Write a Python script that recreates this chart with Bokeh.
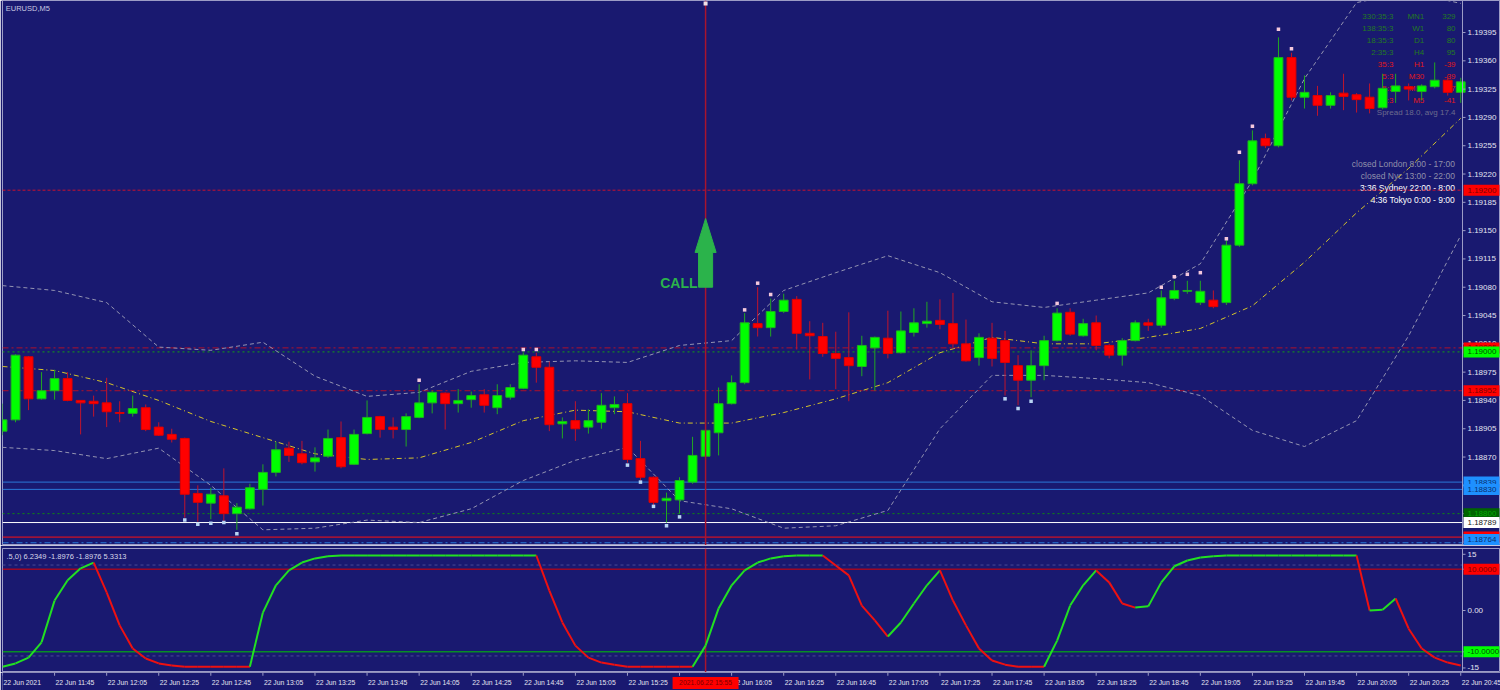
from bokeh.plotting import figure
from bokeh.models import Range1d, Label, Span
from bokeh.layouts import column
from bokeh.embed import file_html
from bokeh.resources import INLINE
from bokeh.core.properties import value

# ---------------- data (EURUSD M5, 22 Jun 2021, bar 0 = 11:25) ----------------
bar_open = [1.18902, 1.18916, 1.18994, 1.18942, 1.18952, 1.18967, 1.18940, 1.18939, 1.18937, 1.18925,
            1.18924, 1.18931, 1.18907, 1.18898, 1.18893, 1.18825, 1.18813, 1.18822, 1.18800, 1.18806,
            1.18830, 1.18851, 1.18881, 1.18874, 1.18864, 1.18871, 1.18894, 1.18861, 1.18899, 1.18920,
            1.18907, 1.18904, 1.18919, 1.18937, 1.18949, 1.18936, 1.18941, 1.18947, 1.18931, 1.18944,
            1.18955, 1.18994, 1.18981, 1.18911, 1.18915, 1.18907, 1.18913, 1.18931, 1.18936, 1.18868,
            1.18845, 1.18816, 1.18817, 1.18839, 1.18871, 1.18900, 1.18936, 1.18962, 1.19035, 1.19030,
            1.19050, 1.19065, 1.19023, 1.19019, 1.18998, 1.18993, 1.18982, 1.19005, 1.19017, 1.18999,
            1.19024, 1.19035, 1.19039, 1.19035, 1.19010, 1.18993, 1.19017, 1.19014, 1.18983, 1.18965,
            1.18983, 1.19014, 1.19049, 1.19020, 1.19036, 1.19008, 1.18996, 1.19014, 1.19036, 1.19033,
            1.19066, 1.19075, 1.19061, 1.19064, 1.19061, 1.19132, 1.19208, 1.19264, 1.19255, 1.19364,
            1.19315, 1.19317, 1.19305, 1.19320, 1.19318, 1.19315, 1.19302, 1.19322, 1.19328, 1.19322,
            1.19328, 1.19336, 1.19321]
bar_high = [1.18936, 1.18997, 1.18995, 1.18975, 1.18978, 1.18975, 1.18940, 1.18946, 1.18968, 1.18939,
            1.18946, 1.18935, 1.18913, 1.18905, 1.18894, 1.18835, 1.18832, 1.18856, 1.18813, 1.18837,
            1.18861, 1.18889, 1.18889, 1.18890, 1.18882, 1.18904, 1.18914, 1.18904, 1.18940, 1.18921,
            1.18919, 1.18924, 1.18960, 1.18952, 1.18950, 1.18954, 1.18951, 1.18954, 1.18960, 1.18960,
            1.18999, 1.18999, 1.18988, 1.18919, 1.18939, 1.18929, 1.18949, 1.18945, 1.18949, 1.18890,
            1.18846, 1.18826, 1.18845, 1.18895, 1.18904, 1.18956, 1.18971, 1.19048, 1.19080, 1.19066,
            1.19072, 1.19069, 1.19038, 1.19036, 1.19025, 1.19049, 1.19020, 1.19019, 1.19051, 1.19050,
            1.19054, 1.19062, 1.19065, 1.19073, 1.19040, 1.19023, 1.19036, 1.19026, 1.18996, 1.19002,
            1.19020, 1.19054, 1.19054, 1.19041, 1.19045, 1.19010, 1.19017, 1.19039, 1.19041, 1.19076,
            1.19088, 1.19088, 1.19088, 1.19076, 1.19138, 1.19237, 1.19274, 1.19270, 1.19389, 1.19370,
            1.19342, 1.19329, 1.19321, 1.19344, 1.19320, 1.19332, 1.19344, 1.19344, 1.19332, 1.19331,
            1.19358, 1.19342, 1.19339]
bar_low = [1.18897, 1.18913, 1.18928, 1.18941, 1.18941, 1.18939, 1.18898, 1.18920, 1.18907, 1.18913,
           1.18920, 1.18902, 1.18896, 1.18888, 1.18795, 1.18790, 1.18793, 1.18789, 1.18780, 1.18805,
           1.18810, 1.18846, 1.18864, 1.18861, 1.18852, 1.18869, 1.18856, 1.18860, 1.18898, 1.18894,
           1.18893, 1.18883, 1.18918, 1.18924, 1.18904, 1.18925, 1.18931, 1.18925, 1.18923, 1.18941,
           1.18954, 1.18962, 1.18902, 1.18893, 1.18890, 1.18899, 1.18905, 1.18923, 1.18863, 1.18841,
           1.18810, 1.18789, 1.18800, 1.18837, 1.18870, 1.18872, 1.18935, 1.18960, 1.19019, 1.19019,
           1.19048, 1.19003, 1.18966, 1.18994, 1.18954, 1.18939, 1.18970, 1.18952, 1.18992, 1.18998,
           1.19019, 1.19030, 1.19028, 1.19004, 1.18988, 1.18983, 1.18982, 1.18946, 1.18934, 1.18944,
           1.18965, 1.19013, 1.19020, 1.19019, 1.19002, 1.18992, 1.18983, 1.19013, 1.19026, 1.19030,
           1.19064, 1.19072, 1.19058, 1.19054, 1.19058, 1.19130, 1.19206, 1.19252, 1.19253, 1.19311,
           1.19301, 1.19292, 1.19301, 1.19299, 1.19296, 1.19295, 1.19300, 1.19308, 1.19311, 1.19311,
           1.19326, 1.19317, 1.19308]
bar_close = [1.18916, 1.18996, 1.18942, 1.18952, 1.18967, 1.18940, 1.18937, 1.18936, 1.18926, 1.18924,
             1.18930, 1.18904, 1.18897, 1.18892, 1.18824, 1.18814, 1.18824, 1.18800, 1.18808, 1.18832,
             1.18851, 1.18879, 1.18872, 1.18863, 1.18869, 1.18893, 1.18858, 1.18898, 1.18919, 1.18904,
             1.18904, 1.18920, 1.18937, 1.18950, 1.18936, 1.18940, 1.18946, 1.18934, 1.18946, 1.18956,
             1.18996, 1.18981, 1.18910, 1.18914, 1.18905, 1.18915, 1.18934, 1.18935, 1.18867, 1.18845,
             1.18814, 1.18819, 1.18841, 1.18872, 1.18903, 1.18936, 1.18962, 1.19036, 1.19030, 1.19050,
             1.19064, 1.19023, 1.19020, 1.18998, 1.18992, 1.18983, 1.19008, 1.19018, 1.18998, 1.19026,
             1.19036, 1.19038, 1.19034, 1.19010, 1.18989, 1.19018, 1.18992, 1.18987, 1.18965, 1.18983,
             1.19014, 1.19048, 1.19022, 1.19035, 1.19008, 1.18996, 1.19014, 1.19036, 1.19033, 1.19067,
             1.19076, 1.19076, 1.19075, 1.19056, 1.19132, 1.19208, 1.19261, 1.19255, 1.19364, 1.19315,
             1.19321, 1.19305, 1.19317, 1.19316, 1.19312, 1.19301, 1.19326, 1.19329, 1.19325, 1.19329,
             1.19336, 1.19321, 1.19334]

band_bars = [0, 4, 8, 12, 16, 20, 24, 28, 32, 36, 40, 44, 48, 52, 56, 60, 64, 68, 72, 76,
             80, 84, 88, 92, 96, 100, 104, 108, 112]
band_upper = [1.19082, 1.19076, 1.19061, 1.19006, 1.19002, 1.19012, 1.18970, 1.18945, 1.18950, 1.18976,
              1.18987, 1.18989, 1.18987, 1.19008, 1.19014, 1.19076, 1.19098, 1.19119, 1.19098, 1.19062,
              1.19055, 1.19064, 1.19073, 1.19109, 1.19212, 1.19338, 1.19432, 1.19445, 1.19431]
band_middle = [1.18982, 1.18977, 1.18962, 1.18940, 1.18914, 1.18894, 1.18874, 1.18867, 1.18869, 1.18888,
               1.18915, 1.18928, 1.18926, 1.18912, 1.18912, 1.18925, 1.18942, 1.18962, 1.18999, 1.19018,
               1.19010, 1.19010, 1.19018, 1.19029, 1.19057, 1.19111, 1.19172, 1.19227, 1.19289]
band_lower = [1.18882, 1.18878, 1.18868, 1.18881, 1.18835, 1.18780, 1.18782, 1.18792, 1.18789, 1.18806,
              1.18841, 1.18866, 1.18882, 1.18816, 1.18806, 1.18782, 1.18785, 1.18804, 1.18905, 1.18971,
              1.18971, 1.18967, 1.18962, 1.18946, 1.18903, 1.18883, 1.18915, 1.19020, 1.19144]

frac_up_bars = [32, 40, 41, 57, 58, 59, 81, 89, 90, 91, 92, 94, 95, 96, 98, 99]
frac_up_prices = [1.18965, 1.19003, 1.19003, 1.19052, 1.19085, 1.19071, 1.19060, 1.19080, 1.19093,
                  1.19096, 1.19098, 1.19140, 1.19247, 1.19279, 1.19399, 1.19375]
frac_dn_bars = [14, 15, 16, 17, 18, 48, 49, 50, 51, 52, 77, 78, 79]
frac_dn_prices = [1.18792, 1.18787, 1.18788, 1.18789, 1.18775, 1.18860, 1.18839, 1.18809, 1.18785,
                  1.18796, 1.18942, 1.18930, 1.18939]

osc_values = [-13.6, -12.8, -11.4, -7.7, 2.4, 7.3, 10.2, 11.6, 4.4, -3.6,
              -9.2, -11.6, -12.8, -13.3, -13.6, -13.6, -13.6, -13.6, -13.6, -13.6,
              -0.5, 6.1, 9.7, 11.6, 12.6, 13.1, 13.3, 13.3, 13.3, 13.3,
              13.3, 13.3, 13.3, 13.3, 13.3, 13.3, 13.3, 13.3, 13.3, 13.3,
              13.3, 13.3, 4.8, -2.9, -8.5, -11.4, -12.6, -13.1, -13.6, -13.6,
              -13.6, -13.6, -13.6, -13.6, -8.5, 0.5, 6.1, 9.7, 11.6, 12.6,
              13.1, 13.3, 13.3, 13.3, 10.9, 8.5, 1.2, -2.4, -6.3, -2.9,
              1.7, 6.1, 9.7, 2.4, -3.6, -9.2, -12.1, -13.1, -13.6, -13.6,
              -13.6, -7.3, 1.2, 6.1, 9.7, 6.8, 1.7, 0.7, 1.0, 6.8,
              10.7, 12.1, 12.8, 13.1, 13.3, 13.3, 13.3, 13.3, 13.3, 13.3,
              13.3, 13.3, 13.3, 13.3, 13.3, 0.0, 0.2, 2.9, -4.4, -9.2,
              -11.4, -12.6, -13.3]

time_tick_bars = [0, 4, 8, 12, 16, 20, 24, 28, 32, 36, 40, 44, 48, 52, 56, 60, 64, 68, 72, 76,
                  80, 84, 88, 92, 96, 100, 104, 108, 112]
time_tick_labels = ["22 Jun 2021", "22 Jun 11:45", "22 Jun 12:05", "22 Jun 12:25", "22 Jun 12:45",
                    "22 Jun 13:05", "22 Jun 13:25", "22 Jun 13:45", "22 Jun 14:05", "22 Jun 14:25",
                    "22 Jun 14:45", "22 Jun 15:05", "22 Jun 15:25", "22 Jun 15:45", "22 Jun 16:05",
                    "22 Jun 16:25", "22 Jun 16:45", "22 Jun 17:05", "22 Jun 17:25", "22 Jun 17:45",
                    "22 Jun 18:05", "22 Jun 18:25", "22 Jun 18:45", "22 Jun 19:05", "22 Jun 19:25",
                    "22 Jun 19:45", "22 Jun 20:05", "22 Jun 20:25", "22 Jun 20:45"]

price_ticks = [1.19395, 1.19360, 1.19325, 1.19290, 1.19255, 1.19220, 1.19185, 1.19150, 1.19115,
               1.19080, 1.19045, 1.19010, 1.18975, 1.18940, 1.18905, 1.18870, 1.18835, 1.18800, 1.18765]
price_tick_labels = ["1.19395", "1.19360", "1.19325", "1.19290", "1.19255", "1.19220", "1.19185",
                     "1.19150", "1.19115", "1.19080", "1.19045", "1.19010", "1.18975", "1.18940",
                     "1.18905", "1.18870", "1.18835", "1.18800", "1.18765"]

level_prices = [1.19200, 1.19005, 1.19000, 1.18952, 1.18839, 1.18830, 1.18800, 1.18789, 1.18771, 1.18764]
level_labels = ["1.19200", "1.19005", "1.19000", "1.18952", "1.18839", "1.18830", "1.18800",
                "1.18789", "1.18771", "1.18764"]

osc_axis_ticks = [13.6, 10.0, 0.0, -10.0, -13.9]
osc_axis_labels = ["15", "10", "0.00", "-10", "-15"]
osc_levels = [10.0, -10.0]
osc_level_labels = ["10.0000", "-10.0000"]
osc_dotted_levels = [11.0, -11.0]

signal_bar = 54
signal_time = "2021.06.22 15:55"
arrow_tip, arrow_neck, arrow_tail = 1.19165, 1.19123, 1.19080
call_price = 1.19085

title_text = "EURUSD,M5"
osc_title = ".5,0) 6.2349 -1.8976 -1.8976 5.3313"
info_times = ["330:35:3", "138:35:3", "18:35:3", "2:35:3", "35:3", "5:3", "5:3", "0:3"]
info_periods = ["MN1", "W1", "D1", "H4", "H1", "M30", "M15", "M5"]
info_values = ["329", "80", "80", "95", "-39", "-39", "-37", "-41"]
spread_text = "Spread 18.0, avg 17.4"
session_texts = ["closed London 8:00 - 17:00", "closed Nyc 13:00 - 22:00",
                 "3:36 Sydney 22:00 - 8:00", "4:36 Tokyo 0:00 - 9:00"]

# ---------------- styles ----------------
BG = "#191970"
FRAME = "#9c9cc6"
AXIS_TXT = "#e4e4f0"
FONT = "Liberation Sans"
BULL, BEAR = "#00ff00", "#ff0000"
BULL_EDGE, BEAR_EDGE = "#1fb01f", "#e00000"
BULL_WICK, BEAR_WICK = "#22a822", "#c0142c"
SIG = "#a8142e"
CALL_GREEN = "#2bb34b"

level_line_colors = ["#c8102e", "#b0102a", "#12a012", "#b0102a", "#2a78d8", "#2a78d8",
                     "#0e8a0e", "#ffffff", "#ff1010", "#2a78d8"]
level_dashes = ["3 2", "6 3 2 3", "2 3", "6 3 2 3", "solid", "solid", "2 3", "solid", "solid", "6 3 2 3"]
box_bg = ["#ff0000", "#ff0000", "#00ff00", "#ff0000", "#1e90ff", "#1e90ff",
          "#006400", "#ffffff", "#ff0000", "#1e90ff"]
box_txt = ["#7a0000", "#7a0000", "#005000", "#7a0000", "#0a3070", "#0a3070",
           "#00a800", "#202020", "#7a0000", "#0a3070"]

W, LB = 1500, 2
BAR_PX = 13.02
xr = Range1d(0, (W - LB) / BAR_PX)
AXIS_X = 1460 / BAR_PX          # price-scale edge (right side of chart area)
TICK_LEN = 3 / BAR_PX
LABEL_OFF = 5 / BAR_PX
BOX_CX = 19 / BAR_PX
MAIN_H = 545
Y_BOTTOM, Y_TOP = 1.187606, 1.194346
PX_PRICE = (Y_TOP - Y_BOTTOM) / MAIN_H
ROW = 0.0001484


def base_fig(h, yr, top, outline=True):
    f = figure(width=W, height=h, x_range=xr, y_range=yr, output_backend="svg", toolbar_location=None,
               x_axis_location=None, y_axis_location=None, min_border_left=LB, min_border_right=0,
               min_border_top=top, min_border_bottom=0, background_fill_color=BG, border_fill_color=BG,
               outline_line_color=FRAME if outline else None)
    f.grid.visible = False
    return f


def tx(fig, xs, ys, texts, color, size="8px", align="left", baseline="middle", bold=False):
    fig.text(x=xs, y=ys, text=texts, text_color=color, text_font=value(FONT), text_font_size=value(size),
             text_align=align, text_baseline=baseline, text_font_style="bold" if bold else "normal")


def label(fig, x, y, text, color, size="8px", align="left", level="underlay"):
    fig.add_layout(Label(x=x, y=y, text=text, text_color=color, text_font=FONT, text_font_size=size,
                         text_align=align, text_baseline="middle", level=level))


def price_scale(fig, ticks, labels):
    fig.add_layout(Span(location=AXIS_X, dimension="height", line_color=FRAME, line_width=1))
    k = len(ticks)
    fig.segment(x0=[AXIS_X] * k, y0=ticks, x1=[AXIS_X + TICK_LEN] * k, y1=ticks, line_color=FRAME)
    tx(fig, [AXIS_X + LABEL_OFF] * k, ticks, labels, AXIS_TXT, size="8px")


def price_box(fig, y, text, bg, tc):
    fig.rect(x=[AXIS_X + BOX_CX], y=[y], width=36, height=11, width_units="screen",
             height_units="screen", fill_color=bg, line_color=None)
    tx(fig, [AXIS_X + LABEL_OFF], [y], [text], tc, size="8px")


# ---------------- main price chart ----------------
p = base_fig(MAIN_H, Range1d(Y_BOTTOM, Y_TOP), 0)

for price, col, dash in zip(level_prices, level_line_colors, level_dashes):
    p.segment(x0=[0], y0=[price], x1=[AXIS_X], y1=[price], line_color=col, line_dash=dash, line_width=1)

info_top = 1.194148
for k in range(len(info_times)):
    col = "#237a23" if k < 4 else "#e01818"
    y = info_top - k * ROW
    label(p, 106.83, y, info_times[k], col, align="right")
    label(p, 109.2, y, info_periods[k], col, align="right")
    label(p, 111.6, y, info_values[k], col, align="right")
label(p, 111.6, info_top - 8 * ROW, spread_text, "#6c6c8e", align="right")
sess_top = 1.192330
for k, s in enumerate(session_texts):
    col = "#9090aa" if s.startswith("closed") else "#ffffff"
    label(p, 111.55, sess_top - k * ROW, s, col, size="8.5px", align="right")

p.line(band_bars, band_upper, line_color="#9494b2", line_dash="4 3", line_width=1)
p.line(band_bars, band_lower, line_color="#9494b2", line_dash="4 3", line_width=1)
p.line(band_bars, band_middle, line_color="#d6c42a", line_dash="5 3 1 3", line_width=1)

n = len(bar_open)
bull = [c >= o for o, c in zip(bar_open, bar_close)]
p.segment(x0=list(range(n)), y0=bar_low, x1=list(range(n)), y1=bar_high,
          line_color=[BULL_WICK if b else BEAR_WICK for b in bull], line_width=1)
p.vbar(x=list(range(n)), width=0.68,
       top=[max(o, c) for o, c in zip(bar_open, bar_close)],
       bottom=[min(o, c) for o, c in zip(bar_open, bar_close)],
       fill_color=[BULL if b else BEAR for b in bull],
       line_color=[BULL_EDGE if b else BEAR_EDGE for b in bull], line_width=1)

p.scatter(frac_up_bars, frac_up_prices, marker="square", size=3.5, fill_color="#f4c8dc", line_color=None)
p.scatter(frac_dn_bars, frac_dn_prices, marker="square", size=3.5, fill_color="#b8d4f4", line_color=None)

p.segment(x0=[signal_bar], y0=[Y_BOTTOM], x1=[signal_bar], y1=[Y_TOP], line_color=SIG, line_width=1.5)
p.scatter([signal_bar], [Y_TOP - 3 * PX_PRICE], marker="square", size=4, fill_color="#f0e0e8", line_color=None)
hw, sw = 0.81, 0.54
p.patch([signal_bar, signal_bar + hw, signal_bar + sw, signal_bar + sw, signal_bar - sw, signal_bar - sw,
         signal_bar - hw],
        [arrow_tip, arrow_neck, arrow_neck, arrow_tail, arrow_tail, arrow_neck, arrow_neck],
        fill_color=CALL_GREEN, line_color=CALL_GREEN)
tx(p, [signal_bar - 0.62], [call_price], ["CALL"], CALL_GREEN, size="14px", align="right",
   baseline="alphabetic", bold=True)

price_scale(p, price_ticks, price_tick_labels)
for price, txt_, bg, tc in zip(level_prices, level_labels, box_bg, box_txt):
    # keep the lowest boxes fully inside the chart area
    price_box(p, max(price, Y_BOTTOM + 6 * PX_PRICE), txt_, bg, tc)

label(p, 0.25, 1.194247, title_text, "#c8c8e0", size="7.5px", level="annotation")

# ---------------- oscillator panel ----------------
q = base_fig(127, Range1d(-15, 15), 3)

for lv in osc_dotted_levels:
    q.segment(x0=[0], y0=[lv], x1=[AXIS_X], y1=[lv], line_color="#4a4a96", line_dash="3 3", line_width=1)
q.segment(x0=[0], y0=[osc_levels[0]], x1=[AXIS_X], y1=[osc_levels[0]], line_color="#e00000", line_width=1)
q.segment(x0=[0], y0=[osc_levels[1]], x1=[AXIS_X], y1=[osc_levels[1]], line_color="#00c800", line_width=1)
q.segment(x0=[signal_bar], y0=[-15], x1=[signal_bar], y1=[15], line_color=SIG, line_width=1.5)

seg_x, seg_y, seg_c = [], [], []
prev = "#22e022"
for i in range(len(osc_values) - 1):
    a, b = osc_values[i], osc_values[i + 1]
    col = "#22e022" if b > a else ("#ee1111" if b < a else prev)
    prev = col
    seg_x.append([i, i + 1])
    seg_y.append([a, b])
    seg_c.append(col)
q.multi_line(xs=seg_x, ys=seg_y, line_color=seg_c, line_width=2)

price_scale(q, osc_axis_ticks, osc_axis_labels)
price_box(q, osc_levels[0], osc_level_labels[0], "#ff0000", "#7a0000")
price_box(q, osc_levels[1], osc_level_labels[1], "#00ff00", "#005000")
label(q, 0.3, 13.1, osc_title, "#d8d8e8", size="7.5px", level="annotation")

# ---------------- time axis strip ----------------
s = base_fig(18, Range1d(0, 1), 0, outline=False)
k = len(time_tick_bars)
s.segment(x0=time_tick_bars, y0=[1.0] * k, x1=time_tick_bars, y1=[0.82] * k, line_color=FRAME, line_width=1)
tx(s, [b + 1 / BAR_PX for b in time_tick_bars], [0.42] * k, time_tick_labels, AXIS_TXT, size="6.8px")
s.rect(x=[signal_bar], y=[0.42], width=66, height=12, width_units="screen", height_units="screen",
       fill_color="#ff0000", line_color=None)
tx(s, [signal_bar], [0.42], [signal_time], "#7a0000", size="6.8px", align="center")

layout = column(p, q, s)
open("out.html", "w").write(file_html(layout, INLINE))
